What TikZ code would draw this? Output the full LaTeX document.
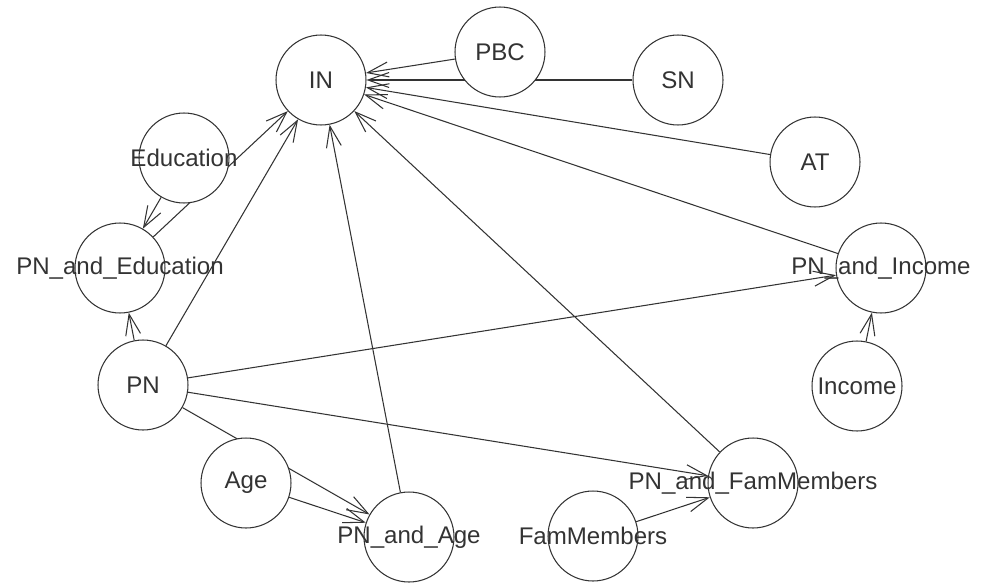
\documentclass[tikz,border=0pt]{standalone}
\usepackage{fontspec}
\setmainfont{Liberation Sans}
\usetikzlibrary{arrows.meta, backgrounds}

\begin{document}
\begin{tikzpicture}[
  x=0.02cm, y=-0.02cm,
  var/.style={draw=black!80, fill=white, circle, minimum size=1.8cm, inner sep=0pt,
              line width=0.6pt},
  lbl/.style={text=black!80, font=\fontsize{13.7}{16}\selectfont},
  arr/.style={-{Straight Barb[length=0.42cm, width=0.3cm, line width=0.6pt]},
              draw=black!80, line width=0.6pt}
]
  \useasboundingbox (0,0) rectangle (984,585);
  \node[var, label={[lbl]center:IN}]                (in)   at (321, 80)  {};
  \node[var, label={[lbl]center:PBC}]               (pbc)  at (500, 52)  {};
  \node[var, label={[lbl]center:SN}]                (sn)   at (678, 80)  {};
  \node[var, label={[lbl]center:AT}]                (at)   at (815,162)  {};
  \node[var, label={[lbl]center:Education}]         (edu)  at (184,158)  {};
  \node[var, label={[lbl]center:PN\_and\_Education}] (pned) at (120,268)  {};
  \node[var, label={[lbl]center:PN}]                (pn)   at (143,385)  {};
  \node[var, label={[lbl]center:Age}]               (age)  at (246,483)  {};
  \node[var, label={[lbl]center:PN\_and\_Age}]       (pnag) at (409,537)  {};
  \node[var, label={[lbl]center:PN\_and\_Income}]    (pnin) at (881,268)  {};
  \node[var, label={[lbl]center:Income}]            (inc)  at (857,386)  {};
  \node[var, label={[lbl]center:PN\_and\_FamMembers}] (pnfm) at (753,483) {};
  \node[var, label={[lbl]center:FamMembers}]        (fam)  at (593,536)  {};
  \begin{scope}[on background layer]
    \draw[arr] (pbc)  -- (in);
    \draw[arr] (sn)   -- (in);
    \draw[arr] (at)   -- (in);
    \draw[arr] (pnin) -- (in);
    \draw[arr] (pnfm) -- (in);
    \draw[arr] (pnag) -- (in);
    \draw[arr] (pn)   -- (in);
    \draw[arr] (pned) -- (in);
    \draw[arr] (edu)  -- (pned);
    \draw[arr] (pn)   -- (pned);
    \draw[arr] (age)  -- (pnag);
    \draw[arr] (pn)   -- (pnag);
    \draw[arr] (pn)   -- (pnin);
    \draw[arr] (pn)   -- (pnfm);
    \draw[arr] (inc)  -- (pnin);
    \draw[arr] (fam)  -- (pnfm);
  \end{scope}
\end{tikzpicture}
\end{document}
